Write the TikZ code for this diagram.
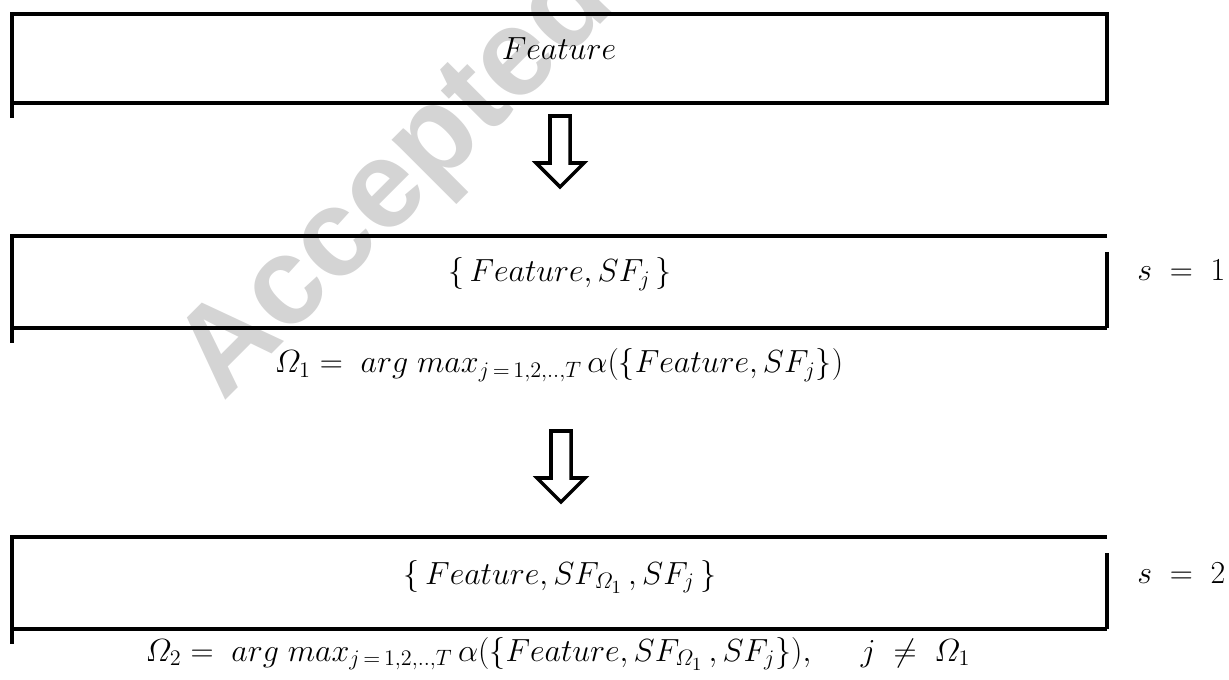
\documentclass[tikz,border=0pt]{standalone}
\usepackage{amsmath}
\usepackage[no-math]{fontspec}
\newfontfamily\markfont{Liberation Sans}
\usetikzlibrary{calc,fit}

\definecolor{wmgray}{RGB}{212,212,212}

\tikzset{
  rule/.style={line width=1.9pt, line join=miter},
  panel/.style={rectangle, inner sep=0pt, outer sep=0pt},
  mathtext/.style={inner sep=0pt, font=\fontsize{17.28}{20}\selectfont},
  hollowdown/.pic={
    \draw[rule] (-10,0) -- (-10,47) -- (-24,47) -- (0,71) -- (24,47)
                -- (10,47) -- (10,0) -- cycle;
  },
}

\begin{document}
\begin{tikzpicture}[x=0.54pt, y=-0.54pt]
\useasboundingbox (0,0) rectangle (1229,680);

% light watermark behind everything
\node[rotate=45, text=wmgray, inner sep=0pt,
      font=\markfont\bfseries\fontsize{67}{67}\selectfont] (mark) at (398,182) {Accepted};

% three stage panels
\node[panel, fit={(12,14) (1107,103)}] (box1) {};
\node[panel, fit={(12,236) (1107,328)}] (box2) {};
\node[panel, fit={(12,537) (1107,629)}] (box3) {};

% panel 1: closed frame, left side runs past the bottom rule
\draw[rule] (box1.south west) -- (box1.south east) -- (box1.north east)
            -- (box1.north west) -- ($(box1.south west)+(0,15)$);

% panels 2 and 3: right side starts a little below the top rule
\foreach \b in {box2,box3}{
  \draw[rule] (\b.north east) -- (\b.north west) -- ($(\b.south west)+(0,15)$);
  \draw[rule] (\b.south west) -- (\b.south east);
  \draw[rule] ($(\b.north east)+(0,16)$) -- (\b.south east);
}

% panel contents
\node[mathtext, anchor=base] (t1) at (559,60) {$Feature$};
\node[mathtext, anchor=base] (t2) at (560,282) {$\{\,Feature, SF_j\,\}$};
\node[mathtext, anchor=base] (t3) at (560,584) {$\{\,Feature, SF_{\varOmega_1}\,, SF_j\,\}$};

% stage counters
\node[mathtext, anchor=base west] (s1) at (1137,281) {$s\;=\;1$};
\node[mathtext, anchor=base west] (s2) at (1137,583) {$s\;=\;2$};

% selection rules
\node[mathtext, anchor=base] (f1) at (559,373)
  {$\varOmega_1 =\; arg\; max_{j\,=\,1,2,..,T}\,\alpha(\{Feature, SF_j\})$};
\node[mathtext, anchor=base] (f2) at (558,661)
  {$\varOmega_2 =\; arg\; max_{j\,=\,1,2,..,T}\,\alpha(\{Feature, SF_{\varOmega_1}\,, SF_j\}),\hspace{24pt} j\;\neq\;\varOmega_1$};

% hollow arrows between stages
\pic at ($(box1.south)+(0.5,13)$) {hollowdown};
\pic at ($(f1.base)+(2,58)$) {hollowdown};
\end{tikzpicture}
\end{document}
